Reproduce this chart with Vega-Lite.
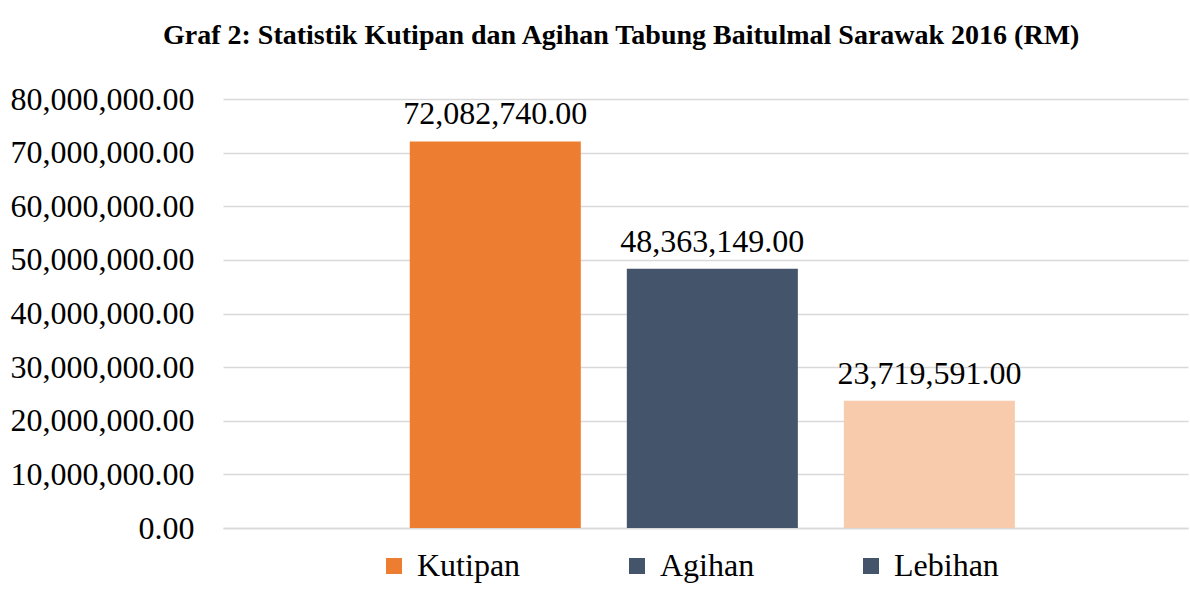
{
  "$schema": "https://vega.github.io/schema/vega-lite/v6.json",
  "width": 965,
  "height": 429,
  "autosize": {"type": "none"},
  "padding": {"left": 223, "top": 99, "right": 2, "bottom": 75},
  "background": "white",
  "title": {
    "text": "Graf 2: Statistik Kutipan dan Agihan Tabung Baitulmal Sarawak 2016 (RM)",
    "font": "Liberation Serif",
    "fontSize": 28,
    "fontWeight": "bold",
    "color": "black",
    "anchor": "start",
    "frame": "group",
    "dx": -60,
    "offset": 33
  },
  "data": {
    "values": [
      {"kategori": "Kutipan", "jumlah": 72082740},
      {"kategori": "Agihan", "jumlah": 48363149},
      {"kategori": "Lebihan", "jumlah": 23719591}
    ]
  },
  "encoding": {
    "x": {
      "field": "kategori",
      "type": "nominal",
      "sort": null,
      "scale": {"paddingInner": 0.212, "paddingOuter": 0.829, "align": 0.519},
      "axis": {"labels": false, "ticks": false, "title": null, "domainColor": "#D9D9D9", "domainWidth": 1.5}
    },
    "y": {
      "field": "jumlah",
      "type": "quantitative",
      "scale": {"domain": [0, 80000000], "nice": false},
      "axis": {
        "title": null,
        "values": [0, 10000000, 20000000, 30000000, 40000000, 50000000, 60000000, 70000000, 80000000],
        "format": ",.2f",
        "labelFont": "Liberation Serif",
        "labelFontSize": 32,
        "labelColor": "black",
        "labelPadding": 29,
        "labelLimit": 0,
        "ticks": false,
        "domain": false,
        "gridColor": "#D9D9D9",
        "gridWidth": 1.5
      }
    }
  },
  "layer": [
    {
      "mark": {"type": "bar"},
      "encoding": {
        "color": {
          "field": "kategori",
          "type": "nominal",
          "sort": null,
          "scale": {"domain": ["Kutipan", "Agihan", "Lebihan"], "range": ["#ED7D31", "#44546A", "#F8CBAD"]},
          "legend": null
        }
      }
    },
    {
      "mark": {"type": "bar"},
      "encoding": {
        "y": {"datum": 0, "type": "quantitative"},
        "color": {
          "field": "kategori",
          "type": "nominal",
          "sort": null,
          "scale": {"domain": ["Kutipan", "Agihan", "Lebihan"], "range": ["#ED7D31", "#44546A", "#44546A"]},
          "legend": {
            "title": null,
            "orient": "none",
            "legendX": 155,
            "legendY": 451,
            "direction": "horizontal",
            "columnPadding": 100,
            "symbolType": "square",
            "symbolSize": 256,
            "labelFont": "Liberation Serif",
            "labelFontSize": 32,
            "labelColor": "black",
            "labelOffset": 7,
            "padding": 0
          }
        }
      }
    },
    {
      "mark": {"type": "text", "dy": -17, "baseline": "alphabetic", "fontSize": 32, "font": "Liberation Serif", "color": "black"},
      "encoding": {"text": {"field": "jumlah", "type": "quantitative", "format": ",.2f"}}
    }
  ],
  "resolve": {"scale": {"color": "independent"}, "legend": {"color": "independent"}},
  "config": {"view": {"stroke": null}}
}
